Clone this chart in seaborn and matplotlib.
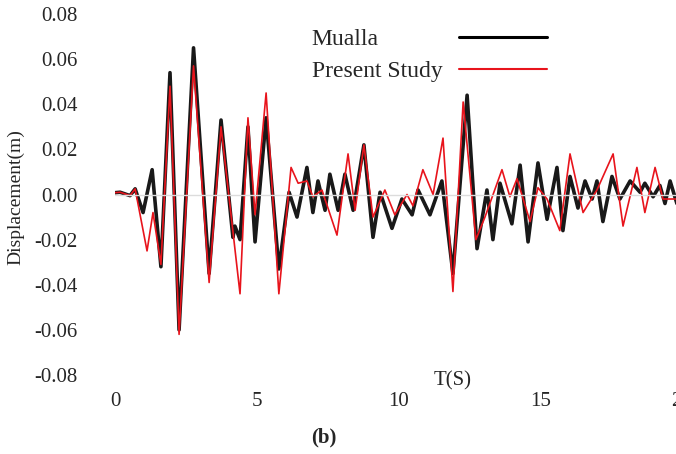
import matplotlib
matplotlib.use("Agg")
import matplotlib.pyplot as plt
from matplotlib.lines import Line2D
import seaborn as sns
import pandas as pd

# ---- data ----
mualla_t = [0.0, 0.18, 0.53, 0.71, 0.99, 1.31, 1.62, 1.94, 2.26, 2.77, 3.32, 3.74,
            4.16, 4.23, 4.41, 4.69, 4.94, 5.33, 5.78, 6.14, 6.42, 6.77, 6.98, 7.16,
            7.41, 7.58, 7.87, 8.11, 8.40, 8.78, 9.10, 9.35, 9.77, 10.12, 10.48,
            10.69, 11.11, 11.53, 11.92, 12.42, 12.77, 13.12, 13.33, 13.58, 14.00,
            14.29, 14.57, 14.92, 15.24, 15.59, 15.80, 16.05, 16.33, 16.58, 16.83,
            17.00, 17.21, 17.53, 17.81, 18.17, 18.52, 18.69, 18.98, 19.22, 19.40,
            19.58, 19.82, 20.0]
mualla_v = [0.0008, 0.001, -0.0005, 0.0025, -0.008, 0.011, -0.032, 0.054, -0.060,
            0.065, -0.035, 0.033, -0.019, -0.014, -0.020, 0.030, -0.021, 0.034,
            -0.033, 0.001, -0.010, 0.012, -0.008, 0.006, -0.007, 0.009, -0.007,
            0.009, -0.007, 0.022, -0.019, 0.001, -0.015, -0.002, -0.009, 0.002,
            -0.009, 0.006, -0.035, 0.044, -0.024, 0.002, -0.020, 0.005, -0.013,
            0.013, -0.021, 0.014, -0.011, 0.012, -0.016, 0.008, -0.006, 0.006,
            -0.002, 0.006, -0.012, 0.008, -0.002, 0.006, 0.001, 0.005, -0.001,
            0.004, -0.004, 0.006, -0.004, 0.003]

present_t = [0.0, 0.18, 0.53, 0.71, 1.13, 1.34, 1.62, 1.94, 2.26, 2.77, 3.32, 3.74,
             4.41, 4.69, 4.94, 5.33, 5.78, 6.21, 6.46, 6.77, 6.98, 7.30, 7.83, 8.22,
             8.47, 8.78, 9.10, 9.52, 9.87, 10.30, 10.51, 10.86, 11.22, 11.57, 11.92,
             12.28, 12.73, 13.05, 13.65, 13.93, 14.18, 14.64, 14.92, 15.24, 15.69,
             16.05, 16.51, 17.00, 17.57, 17.92, 18.41, 18.69, 19.05, 19.33, 19.82, 20.0]
present_v = [0.0008, 0.001, -0.0005, 0.0025, -0.025, -0.008, -0.031, 0.048, -0.062,
             0.057, -0.039, 0.030, -0.044, 0.034, -0.009, 0.045, -0.044, 0.012,
             0.005, 0.006, -0.001, 0.002, -0.018, 0.018, -0.007, 0.022, -0.010,
             0.002, -0.009, 0.000, -0.005, 0.011, 0.000, 0.025, -0.043, 0.041,
             -0.020, -0.010, 0.011, -0.001, 0.007, -0.012, 0.003, -0.002, -0.016,
             0.018, -0.008, 0.002, 0.018, -0.014, 0.012, -0.008, 0.012, -0.002,
             -0.002, -0.002]

x_ticks = [0, 5, 10, 15, 20]
y_ticks = [-0.08, -0.06, -0.04, -0.02, 0.00, 0.02, 0.04, 0.06, 0.08]
series_names = ["Mualla", "Present Study"]

df_m = pd.DataFrame({"t": mualla_t, "v": mualla_v})
df_p = pd.DataFrame({"t": present_t, "v": present_v})

sns.set_theme(style="white")
plt.rcParams["font.family"] = ["Liberation Serif", "DejaVu Serif"]

fig = plt.figure(figsize=(6.76, 4.54), dpi=100)
ax = fig.add_axes([115 / 676, 79 / 454, 567 / 676, 361 / 454])

sns.lineplot(data=df_m, x="t", y="v", ax=ax, color="black", lw=2.6, alpha=0.9,
             sort=False, estimator=None)
sns.lineplot(data=df_p, x="t", y="v", ax=ax, color="#e8141c", lw=1.2,
             sort=False, estimator=None)
ax.axhline(0, color="#dcdcdc", lw=1.0, zorder=5)

ax.set_xlim(0, 20)
ax.set_ylim(-0.08, 0.08)
ax.set_xticks(x_ticks)
ax.set_xticklabels([str(v) for v in x_ticks])
ax.set_yticks(y_ticks)
ax.set_yticklabels([f"{v:.2f}" for v in y_ticks])
ax.tick_params(axis="y", length=0, pad=27, labelsize=15)
ax.tick_params(axis="x", length=0, pad=12, labelsize=15)
for s in ax.spines.values():
    s.set_visible(False)
ax.set_xlabel("")
ax.set_ylabel("")

fig.text(16 / 676, 1 - 197 / 454, "Displacement(m)", rotation=90, ha="center",
         va="center", fontsize=14)
fig.text(453 / 676, 1 - 381 / 454, "T(S)", ha="center", va="center", fontsize=15)
fig.text(324 / 676, 1 - 437 / 454, "(b)", ha="center", va="center", fontsize=15,
         fontweight="bold")

handles = [Line2D([], [], color="black", lw=2.2), Line2D([], [], color="#e8141c", lw=1.5)]
leg = ax.legend(handles, series_names, markerfirst=False, frameon=False,
                loc="upper left", bbox_to_anchor=(300 / 676, 1 - 17 / 454),
                bbox_transform=fig.transFigure, borderpad=0, fontsize=17,
                handlelength=3.7, handletextpad=0.7, labelspacing=0.45)
# spread each legend row: label at left, line at right (as in the reference)
try:
    column = leg._legend_handle_box.get_children()[0]
    for row in column.get_children():
        row.mode = "expand"
        row.width = 235
except Exception:
    pass

fig.savefig("out.png", dpi=100)
